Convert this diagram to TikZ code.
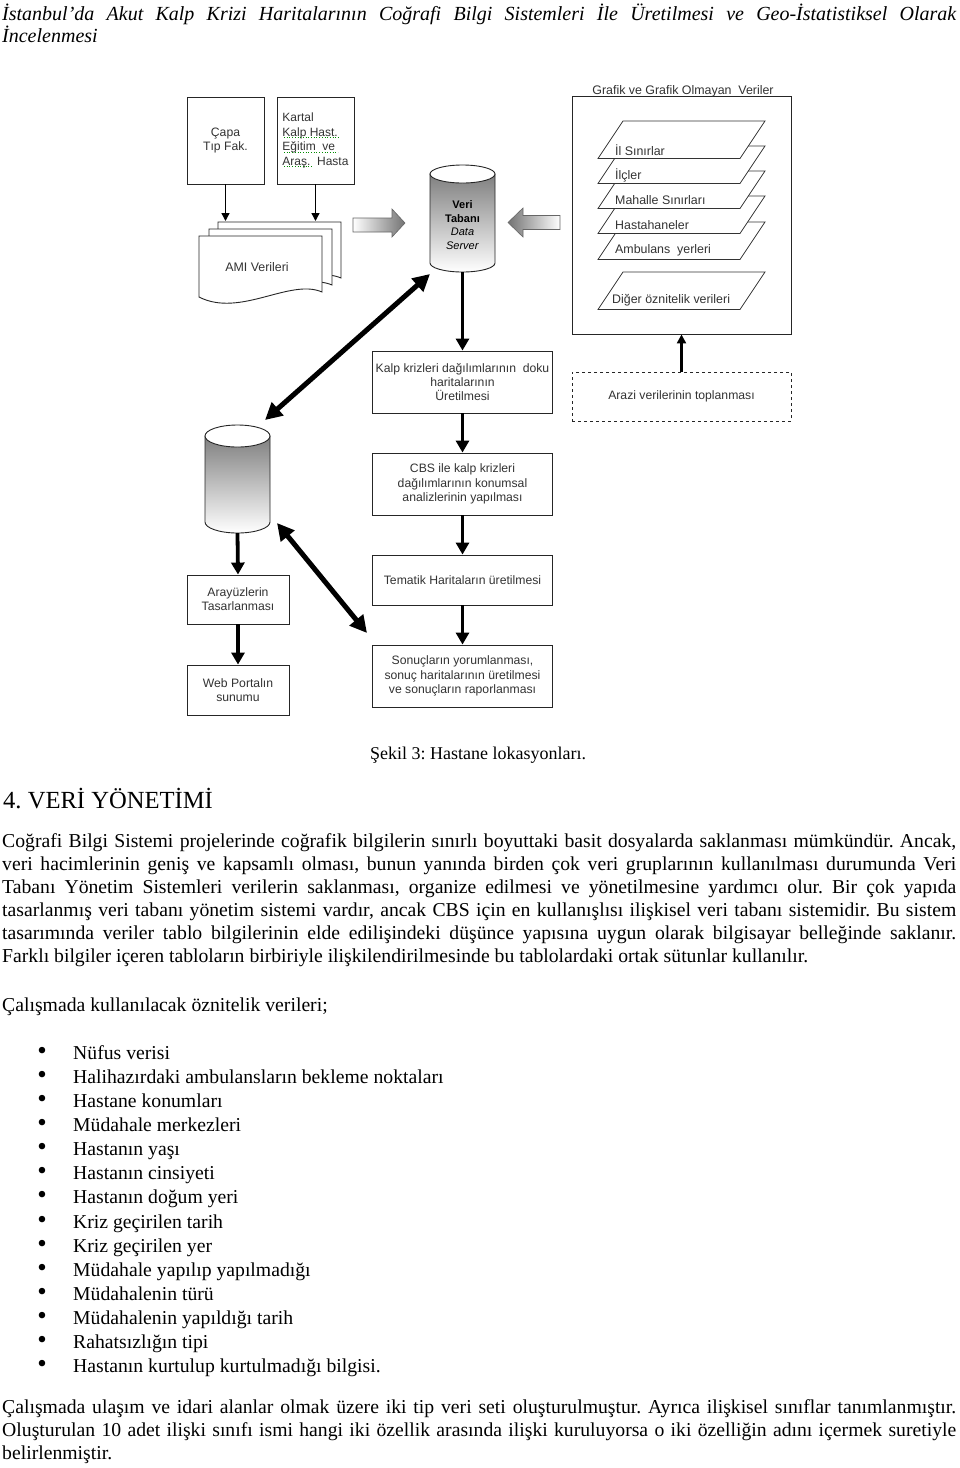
\documentclass[tikz,border=0pt]{standalone}
\usepackage{fontspec}
\setmainfont{Liberation Serif}
\newfontfamily\dfont{Liberation Sans}
\usetikzlibrary{arrows.meta}
\frenchspacing
\begin{document}
\begin{tikzpicture}[x=1pt,y=-1pt,
  box/.style={draw=black!85,line width=0.9pt,fill=white,align=center,inner sep=1pt,font=\dfont\fontsize{12.2}{14.2}\selectfont,text=black!80},
  dtxt/.style={inner sep=0pt,font=\dfont\fontsize{12.4}{14}\selectfont,text=black!80},
  lay/.style={draw=black!80,line width=0.8pt,fill=white},
  sheet/.style={draw=black!85,line width=0.9pt,fill=white},
  tarr/.style={-{Triangle[length=8pt,width=8pt]},line width=1.4pt},
  marr/.style={-{Triangle[length=9pt,width=9pt]},line width=2.6pt},
  karr/.style={-{Triangle[length=12pt,width=13pt]},line width=3.8pt},
  darr/.style={{Triangle[length=17pt,width=17pt]}-{Triangle[length=17pt,width=17pt]},line width=5pt},
  blk/.style={draw=black!60,line width=0.6pt},
  txt/.style={inner sep=0pt,anchor=base west,font=\fontsize{19.7}{23}\selectfont},
  squig/.style={draw=green!55!black,line width=0.7pt,dotted}]
\useasboundingbox (0,0) rectangle (960,1468);
\fill[white] (0,0) rectangle (960,1468);

% ---------------- header ----------------
\node[txt,font=\itshape\fontsize{20}{23}\selectfont] (h1) at (2,20) {\makebox[954pt][s]{İstanbul’da Akut Kalp Krizi Haritalarının Coğrafi Bilgi Sistemleri İle Üretilmesi ve Geo-İstatistiksel Olarak}};
\node[txt,font=\itshape\fontsize{20}{23}\selectfont] (h2) at (2,42) {İncelenmesi};

% ---------------- diagram ----------------
% left top boxes
\node[box,minimum width=77pt,minimum height=87pt] (capa) at (225.5,140.5) {Çapa\\Tıp Fak.};
\node[box,minimum width=77pt,minimum height=87pt,align=left,font=\dfont\fontsize{12}{14.5}\selectfont] (kartal) at (315.5,140.5) {Kartal\\Kalp Hast.\\Eğitim\ \ ve\\Araş.\ \ Hasta};
\draw[squig] (284,137.5) -- (339,137.5);
\draw[squig] (284,152) -- (338,152);
\draw[squig] (284,166.5) -- (313,166.5);
\coordinate (amitop) at (0,221);
\draw[tarr] (capa.south) -- (capa.south |- amitop);
\draw[tarr] (kartal.south) -- (kartal.south |- amitop);

% AMI document stack
\path[sheet] (218,222) -- (341,222) -- (341,278) .. controls (309,264) and (259,304) .. (218,283) -- cycle;
\path[sheet] (209,229) -- (332,229) -- (332,285) .. controls (300,271) and (250,311) .. (209,290) -- cycle;
\path[sheet] (199,236) -- (322,236) -- (322,292) .. controls (290,278) and (240,318) .. (199,297) -- cycle;
\node[dtxt] (ami) at (257,267) {AMI Verileri};

% grey block arrows
\path[blk,left color=white,right color=black!55] (353,218) -- (392,218) -- (392,209) -- (405,223) -- (392,237) -- (392,232) -- (353,232) -- cycle;
\path[blk,left color=black!55,right color=white] (560,215.5) -- (523,215.5) -- (523,208) -- (508,222.5) -- (523,237) -- (523,229.5) -- (560,229.5) -- cycle;

% database 1
\path[draw=black!85,line width=0.9pt,top color=black!50,bottom color=white] (430,174) -- (430,263) arc[start angle=180,end angle=360,x radius=32.5pt,y radius=9pt] -- (495,174) -- cycle;
\draw[black!85,line width=0.9pt,fill=white] (462.5,174) ellipse[x radius=32.5pt,y radius=9pt];
\node[inner sep=0pt,minimum width=65pt,minimum height=107pt] (db) at (462.5,218.5) {};
\node[dtxt,align=center,font=\dfont\fontsize{11}{13.5}\selectfont,text=black] (dbt) at (462.5,225) {\textbf{Veri}\\\textbf{Tabanı}\\\textit{Data}\\\textit{Server}};

% Grafik box
\node[box,minimum width=219pt,minimum height=238pt] (graf) at (681.5,215) {};
\node[dtxt,anchor=base] (graft) at (683,94) {Grafik ve Grafik Olmayan\ \ Veriler};
% layers (bottom ones first)
\path[lay] (623,222) -- (765,222) -- (740,259.5) -- (598,259.5) -- cycle;
\node[dtxt,anchor=west] (l5) at (615,250) {Ambulans\ \ yerleri};
\path[lay] (623,196) -- (765,196) -- (740,233.5) -- (598,233.5) -- cycle;
\node[dtxt,anchor=west] (l4) at (615,225) {Hastahaneler};
\path[lay] (623,171) -- (765,171) -- (740,208.5) -- (598,208.5) -- cycle;
\node[dtxt,anchor=west] (l3) at (615,200) {Mahalle Sınırları};
\path[lay] (623,146) -- (765,146) -- (740,183.5) -- (598,183.5) -- cycle;
\node[dtxt,anchor=west] (l2) at (615,175) {İlçler};
\path[lay] (623,121) -- (765,121) -- (740,158.5) -- (598,158.5) -- cycle;
\node[dtxt,anchor=west] (l1) at (615,150) {İl Sınırlar};
\path[lay] (623,272) -- (765,272) -- (740,309.5) -- (598,309.5) -- cycle;
\node[dtxt,anchor=west] (l6) at (612,300.5) {Diğer öznitelik verileri};

% Arazi
\node[box,dashed,minimum width=219pt,minimum height=49pt] (arazi) at (681.5,396.5) {Arazi verilerinin toplanması};
\draw[marr] (arazi.north) -- (graf.south);

% main flow
\node[box,minimum width=180pt,minimum height=62pt] (kalp) at (462.5,382) {Kalp krizleri dağılımlarının\ \ doku\\haritalarının\\Üretilmesi};
\node[box,minimum width=180pt,minimum height=62pt] (cbs) at (462.5,484) {CBS ile kalp krizleri\\dağılımlarının konumsal\\analizlerinin yapılması};
\node[box,minimum width=180pt,minimum height=50pt] (tem) at (462.5,580) {Tematik Haritaların üretilmesi};
\node[box,minimum width=180pt,minimum height=62pt] (son) at (462.5,676) {Sonuçların yorumlanması,\\sonuç haritalarının üretilmesi\\ve sonuçların raporlanması};
\draw[karr] (db.south) -- (kalp.north);
\draw[karr] (kalp.south) -- (cbs.north);
\draw[karr] (cbs.south) -- (tem.north);
\draw[karr] (tem.south) -- (son.north);

% database 2
\path[draw=black!85,line width=0.9pt,top color=black!50,bottom color=white] (205,436) -- (205,522) arc[start angle=180,end angle=360,x radius=32.5pt,y radius=11pt] -- (270,436) -- cycle;
\draw[black!85,line width=0.9pt,fill=white] (237.5,436) ellipse[x radius=32.5pt,y radius=11pt];
\node[inner sep=0pt,minimum width=65pt,minimum height=108pt] (cyl) at (237.5,479) {};

\node[box,minimum width=102pt,minimum height=49pt] (ara) at (238,599.5) {Arayüzlerin\\Tasarlanması};
\node[box,minimum width=102pt,minimum height=50pt] (web) at (238,690) {Web Portalın\\sunumu};
\draw[karr] (cyl.south) -- (ara.north);
\draw[karr] (ara.south) -- (web.north);

% double arrows
\coordinate (c2a) at (265,420);
\coordinate (dba) at (430,274);
\coordinate (c2b) at (277,523);
\coordinate (sona) at (367,633);
\draw[darr] (c2a) -- (dba);
\draw[darr] (c2b) -- (sona);

% ---------------- caption and heading ----------------
\node[inner sep=0pt,anchor=base,font=\fontsize{18}{22}\selectfont] (cap) at (478,759) {Şekil 3: Hastane lokasyonları.};
\node[txt,font=\fontsize{24.6}{28}\selectfont] (sec) at (3,808) {4. VERİ YÖNETİMİ};

% ---------------- paragraph 1 ----------------
\node[txt] (p1) at (2,847) {\makebox[954pt][s]{Coğrafi Bilgi Sistemi projelerinde coğrafik bilgilerin sınırlı boyuttaki basit dosyalarda saklanması mümkündür. Ancak,}};
\node[txt] (p2) at (2,870) {\makebox[954pt][s]{veri hacimlerinin geniş ve kapsamlı olması, bunun yanında birden çok veri gruplarının kullanılması durumunda Veri}};
\node[txt] (p3) at (2,893) {\makebox[954pt][s]{Tabanı Yönetim Sistemleri verilerin saklanması, organize edilmesi ve yönetilmesine yardımcı olur. Bir çok yapıda}};
\node[txt] (p4) at (2,916) {\makebox[954pt][s]{tasarlanmış veri tabanı yönetim sistemi vardır, ancak CBS için en kullanışlısı ilişkisel veri tabanı sistemidir. Bu sistem}};
\node[txt] (p5) at (2,939) {\makebox[954pt][s]{tasarımında veriler tablo bilgilerinin elde edilişindeki düşünce yapısına uygun olarak bilgisayar belleğinde saklanır.}};
\node[txt] (p6) at (2,962) {Farklı bilgiler içeren tabloların birbiriyle ilişkilendirilmesinde bu tablolardaki ortak sütunlar kullanılır.};

\node[txt] (q0) at (2,1011) {Çalışmada kullanılacak öznitelik verileri;};

% ---------------- bullet list ----------------
\foreach \t [count=\i] in {Nüfus verisi,Halihazırdaki ambulansların bekleme noktaları,Hastane konumları,Müdahale merkezleri,Hastanın yaşı,Hastanın cinsiyeti,Hastanın doğum yeri,Kriz geçirilen tarih,Kriz geçirilen yer,Müdahale yapılıp yapılmadığı,Müdahalenin türü,Müdahalenin yapıldığı tarih,Rahatsızlığın tipi,Hastanın kurtulup kurtulmadığı bilgisi.}{
  \node[txt,anchor=base,font=\fontsize{27}{27}\selectfont] (bd\i) at (42,{1059+(\i-1)*24.15}) {•};
  \node[txt] (bi\i) at (73,{1059+(\i-1)*24.15}) {\t};
}

% ---------------- last paragraph ----------------
\node[txt] (r1) at (2,1413) {\makebox[954pt][s]{Çalışmada ulaşım ve idari alanlar olmak üzere iki tip veri seti oluşturulmuştur. Ayrıca ilişkisel sınıflar tanımlanmıştır.}};
\node[txt] (r2) at (2,1436) {\makebox[954pt][s]{Oluşturulan 10 adet ilişki sınıfı ismi hangi iki özellik arasında ilişki kuruluyorsa o iki özelliğin adını içermek suretiyle}};
\node[txt] (r3) at (2,1459) {belirlenmiştir.};
\end{tikzpicture}
\end{document}
